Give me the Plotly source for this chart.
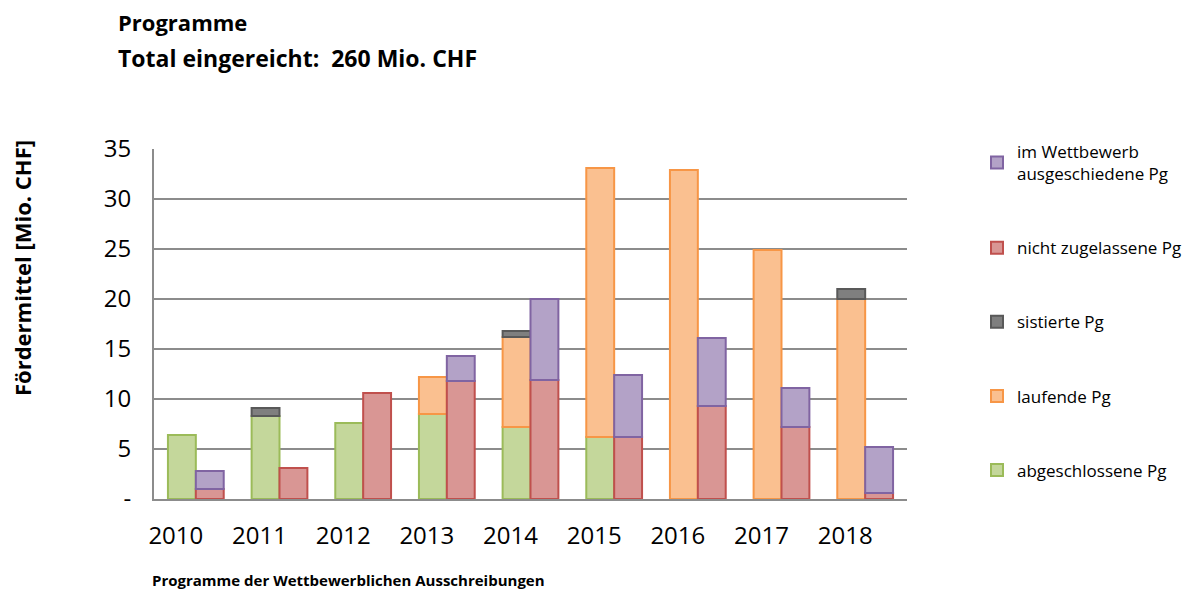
import plotly.graph_objects as go

years = ["2010", "2011", "2012", "2013", "2014", "2015", "2016", "2017", "2018"]

# left stacked bar
abgeschlossen = [6.4, 8.3, 7.6, 8.5, 7.2, 6.2, 0, 0, 0]
laufend = [0, 0, 0, 3.7, 9.0, 26.9, 32.9, 24.9, 20.0]
sistiert = [0, 0.8, 0, 0, 0.6, 0, 0, 0, 1.0]
# right stacked bar
nicht_zugelassen = [1.0, 3.1, 10.6, 11.8, 11.9, 6.2, 9.3, 7.2, 0.6]
ausgeschieden = [1.8, 0, 0, 2.5, 8.1, 6.2, 6.8, 3.9, 4.6]

y_ticks = [0, 5, 10, 15, 20, 25, 30, 35]
y_ticktext = ["-", "5", "10", "15", "20", "25", "30", "35"]

FONT = "Open Sans"


def nz(vals):
    return [v if v else None for v in vals]


def cum(*series):
    return [sum(s[i] for s in series) for i in range(len(years))]


specs = [
    ("abgeschlossene Pg", abgeschlossen, [0] * len(years), "L", "#c4d79b", "#9bbb59", 5),
    ("laufende Pg", laufend, cum(abgeschlossen), "L", "#fac090", "#f79646", 4),
    ("sistierte Pg", sistiert, cum(abgeschlossen, laufend), "L", "#7f7f7f", "#595959", 3),
    ("nicht zugelassene Pg", nicht_zugelassen, [0] * len(years), "R", "#d99694", "#c0504d", 2),
    ("im Wettbewerb<br>ausgeschiedene Pg", ausgeschieden, cum(nicht_zugelassen), "R", "#b3a2c7", "#8064a2", 1),
]

fig = go.Figure()
for name, vals, base, grp, fill, line, rank in specs:
    fig.add_trace(go.Bar(
        x=years, y=nz(vals), base=base, name=name, offsetgroup=grp,
        legendgroup=name, legendrank=rank,
        marker=dict(color=fill, line=dict(color=line, width=2)),
    ))

L, R, T, B = 154, 283, 149, 93
W, H = 1190, 592
pw = W - L - R
ph = H - T - B


def px(x):
    return (x - L) / pw


def py(y):
    return (H - B - y) / ph


fig.update_layout(
    width=W, height=H,
    margin=dict(l=L, r=R, t=T, b=B, autoexpand=False),
    barmode="group", bargap=1 / 3, bargroupgap=0,
    plot_bgcolor="white", paper_bgcolor="white",
    font=dict(family=FONT, color="#000000"),
    showlegend=True,
    legend=dict(
        x=px(977), y=py(134), xanchor="left", yanchor="top",
        traceorder="grouped", tracegroupgap=49,
        font=dict(size=17, family=FONT), itemwidth=30,
        bgcolor="rgba(0,0,0,0)", maxheight=480,
    ),
    annotations=[
        dict(text="<b>Programme</b>", x=px(116), y=py(22),
             showarrow=False, font=dict(size=22, family=FONT), xanchor="left", yanchor="middle"),
        dict(text="<b>Total eingereicht:  260 Mio. CHF</b>", x=px(116), y=py(58),
             showarrow=False, font=dict(size=23, family=FONT), xanchor="left", yanchor="middle"),
        dict(text="<b>Programme der Wettbewerblichen Ausschreibungen</b>", x=px(348), y=py(580),
             showarrow=False, font=dict(size=15, family=FONT), xanchor="center", yanchor="middle"),
        dict(text="<b>Fördermittel [Mio. CHF]</b>", x=px(22), y=py(268), textangle=-90,
             showarrow=False, font=dict(size=22, family=FONT), xanchor="center", yanchor="middle"),
    ],
)
for a in fig.layout.annotations:
    a.xref = "paper"
    a.yref = "paper"

fig.update_xaxes(
    type="category", showgrid=False, showline=True, linecolor="#8c8c8c", linewidth=2,
    ticks="", tickfont=dict(size=24, family=FONT), ticklabelstandoff=14, ticklabelshift=-20,
)
fig.update_yaxes(
    range=[0, 35], tickvals=y_ticks, ticktext=y_ticktext,
    showgrid=True, gridcolor="#8c8c8c", gridwidth=2,
    showline=True, linecolor="#8c8c8c", linewidth=2, zeroline=False,
    ticks="", tickfont=dict(size=24, family=FONT), ticklabelstandoff=16,
)

fig.write_html(
    "out.html",
    config={"displayModeBar": False},
    post_script="document.body.style.margin='0';document.body.style.padding='0';",
)
